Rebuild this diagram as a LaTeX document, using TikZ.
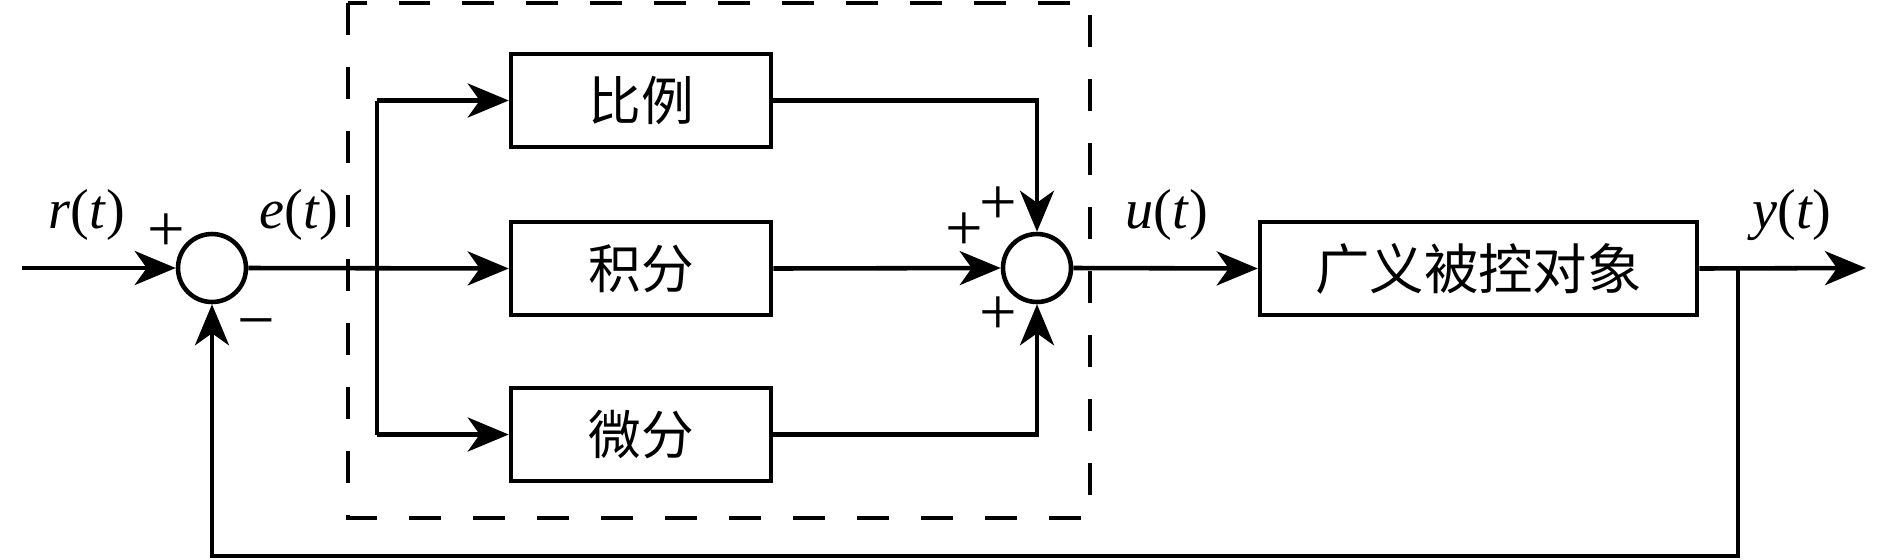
\documentclass[tikz,border=0pt]{standalone}
\usepackage{fontspec}
\setmainfont{Liberation Serif}
\newfontfamily\cjk{Noto Sans CJK SC}
\usetikzlibrary{arrows.meta}
\begin{document}
\begin{tikzpicture}[x=0.02cm,y=-0.02cm,
  line width=2.6pt,
  arr/.style={-{Stealth[length=0.82cm,width=0.68cm,inset=0.24cm]}},
  blk/.style={draw,rectangle,minimum width=5.2cm,minimum height=1.86cm,inner sep=0pt,font=\cjk\fontsize{30}{32}\selectfont},
  sumc/.style={draw,circle,minimum size=1.36cm,inner sep=0pt},
  lbl/.style={font=\fontsize{32}{36}\selectfont,inner sep=0pt},
  sgn/.style={font=\fontsize{38}{40}\selectfont,inner sep=0pt}
]
\useasboundingbox (0,0) rectangle (1890,559);
% dashed controller frame
\draw[dash pattern=on 0.64cm off 0.64cm, line width=2.6pt] (348,3) rectangle (1090,518);
% nodes
\node[sumc] (s1) at (212,268) {};
\node[sumc] (s2) at (1037,268) {};
\node[blk] (P) at (641,100.5) {比例};
\node[blk] (I) at (641,268.5) {积分};
\node[blk] (D) at (641,434.5) {微分};
\node[blk,minimum width=8.74cm,font=\cjk\fontsize{31}{33}\selectfont] (G) at (1478.5,268.5) {广义被控对象};
\coordinate (in) at (22,268);
\coordinate (out) at (1866,268);
\coordinate (br) at (377,268);
\coordinate (fb) at (1738,268);
% connectors
\draw[arr] (in) -- (s1.west);
\draw[arr] (s1.east) -- (I.west);
\draw[arr] (br |- P.west) -- (P.west);
\draw[arr] (br |- D.west) -- (D.west);
\draw (br |- P.west) -- (br |- D.west);
\draw[arr] (P.east) -| (s2.north);
\draw[arr] (I.east) -- (s2.west);
\draw[arr] (D.east) -| (s2.south);
\draw[arr] (s2.east) -- (G.west);
\draw[arr] (G.east) -- (out);
\draw[arr] (fb) -- (1738,556) -| (s1.south);
% labels
\node[lbl] (lr) at (87,215) {\textit{r}(\textit{t})};
\node[lbl] (le) at (299,215) {\textit{e}(\textit{t})};
\node[lbl] (lu) at (1167,215) {\textit{u}(\textit{t})};
\node[lbl] (ly) at (1792,215) {\textit{y}(\textit{t})};
\node[sgn] (p1) at (166,233) {+};
\node[sgn] (m1) at (256,331) {−};
\node[sgn] (p2) at (998,206) {+};
\node[sgn] (p3) at (964,232) {+};
\node[sgn] (p4) at (998,316) {+};
\end{tikzpicture}
\end{document}
